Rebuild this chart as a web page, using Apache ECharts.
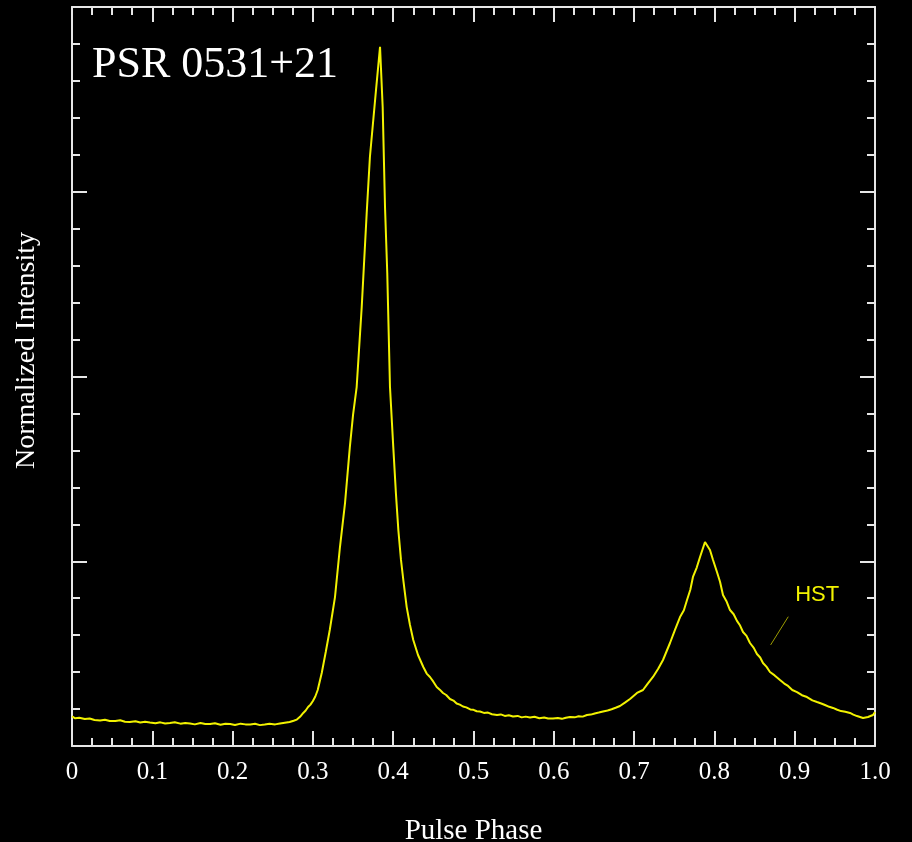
<!DOCTYPE html>
<html>
<head>
<meta charset="utf-8">
<script src="https://cdn.jsdelivr.net/npm/echarts@6/dist/echarts.min.js"></script>
<style>
html,body{margin:0;padding:0;background:#000;}
#chart{width:912px;height:842px;}
</style>
</head>
<body>
<div id="chart"></div>
<script>
// Pulse phase (x) and normalized intensity (y, arbitrary units)
const phase = [
0.000,0.004,0.009,0.016,0.022,0.028,0.035,0.041,0.047,0.054,0.060,0.066,0.072,0.079,0.085,0.091,0.097,0.104,0.110,0.116,
0.122,0.128,0.135,0.141,0.147,0.153,0.160,0.166,0.172,0.178,0.185,0.191,0.197,0.203,0.210,0.216,0.222,0.228,0.234,0.240,
0.246,0.253,0.259,0.265,0.271,0.276,0.280,0.284,0.288,0.291,0.294,0.297,0.300,0.303,0.306,0.311,0.316,0.321,0.3275,0.3337,
0.340,0.346,0.350,0.3545,0.3608,0.367,0.371,0.3786,0.3836,0.3869,0.3898,0.3926,0.396,0.4001,0.4035,0.4064,0.4097,0.4126,0.4168,0.4209,
0.425,0.4309,0.4375,0.4417,0.4458,0.450,0.4542,0.458,0.462,0.466,0.4707,0.475,0.479,0.483,0.4869,0.491,0.496,0.500,0.504,0.5081,
0.513,0.518,0.523,0.5293,0.534,0.539,0.544,0.5492,0.555,0.560,0.565,0.5704,0.576,0.582,0.588,0.593,0.599,0.605,0.610,0.615,
0.6202,0.626,0.631,0.636,0.6413,0.646,0.651,0.656,0.6613,0.667,0.672,0.677,0.6824,0.689,0.6949,0.7036,0.7111,0.717,0.7235,0.730,
0.736,0.7447,0.7509,0.7572,0.762,0.7659,0.770,0.7733,0.778,0.7821,0.7883,0.7945,0.7983,0.8032,0.807,0.8107,0.815,0.8194,0.824,0.8281,
0.832,0.8356,0.840,0.8443,0.849,0.853,0.857,0.8605,0.865,0.8692,0.875,0.8817,0.887,0.8917,0.897,0.9029,0.909,0.9153,0.922,0.9278,
0.933,0.9377,0.943,0.9477,0.953,0.9577,0.963,0.9689,0.973,0.9776,0.9851,0.9913,0.9975,1.000
];
const intensity = [
0.160,0.150,0.153,0.146,0.149,0.141,0.138,0.142,0.135,0.135,0.139,0.131,0.130,0.134,0.127,0.131,0.127,0.123,0.128,0.122,
0.1245,0.129,0.121,0.125,0.122,0.117,0.124,0.119,0.119,0.123,0.115,0.120,0.119,0.114,0.121,0.117,0.116,0.120,0.113,0.116,
0.120,0.117,0.122,0.126,0.130,0.137,0.143,0.158,0.179,0.192,0.211,0.224,0.2436,0.268,0.303,0.395,0.509,0.628,0.806,1.077,
1.315,1.618,1.792,1.943,2.376,2.885,3.188,3.551,3.784,3.459,2.917,2.560,1.943,1.618,1.359,1.169,1.007,0.8985,0.752,0.655,
0.574,0.4926,0.4276,0.392,0.3735,0.348,0.3194,0.305,0.287,0.276,0.2544,0.246,0.230,0.224,0.2138,0.209,0.198,0.196,0.188,0.1867,
0.179,0.181,0.172,0.1678,0.171,0.163,0.166,0.1597,0.163,0.155,0.159,0.1543,0.158,0.150,0.154,0.149,0.1488,0.152,0.147,0.153,
0.157,0.155,0.161,0.159,0.1678,0.170,0.176,0.181,0.1867,0.192,0.199,0.207,0.2165,0.236,0.2544,0.287,0.303,0.338,0.3735,0.418,
0.4655,0.5575,0.628,0.698,0.735,0.790,0.846,0.915,0.966,1.023,1.104,1.061,1.007,0.942,0.889,0.817,0.784,0.736,0.713,0.677,
0.652,0.617,0.596,0.5575,0.531,0.498,0.479,0.449,0.428,0.4005,0.382,0.357,0.338,0.325,0.303,0.292,0.275,0.265,0.247,0.238,
0.230,0.222,0.212,0.206,0.196,0.189,0.185,0.179,0.170,0.162,0.1516,0.157,0.1678,0.184
];
const xTicks = [0,0.1,0.2,0.3,0.4,0.5,0.6,0.7,0.8,0.9,1.0];
const title = 'PSR 0531+21';
const xName = 'Pulse Phase';
const yName = 'Normalized Intensity';
const annotation = 'HST';
const annotationPos = [0.928, 0.817];
const leader = [[0.892, 0.700], [0.870, 0.547]];

const axisColor = '#e6e6e6';
const chart = echarts.init(document.getElementById('chart'));
const xBase = {
  type: 'value', min: 0, max: 1, interval: 0.1,
  axisLine: {show: true, onZero: false, lineStyle: {color: axisColor, width: 2}},
  axisTick: {show: true, inside: true, length: 15, lineStyle: {color: axisColor, width: 2}},
  minorTick: {show: true, splitNumber: 4, length: 8, lineStyle: {color: axisColor, width: 2}},
  splitLine: {show: false}, minorSplitLine: {show: false}
};
const yBase = {
  type: 'value', min: 0, max: 4, interval: 1,
  axisLine: {show: true, onZero: false, lineStyle: {color: axisColor, width: 2}},
  axisTick: {show: true, inside: true, length: 15, lineStyle: {color: axisColor, width: 2}},
  minorTick: {show: true, splitNumber: 5, length: 8, lineStyle: {color: axisColor, width: 2}},
  splitLine: {show: false}, minorSplitLine: {show: false},
  axisLabel: {show: false}
};
chart.setOption({
  backgroundColor: '#000',
  animation: false,
  title: {
    text: title, left: 92, top: 43, padding: 0,
    textStyle: {color: '#fff', fontFamily: 'Liberation Serif', fontSize: 44, fontWeight: 'normal'}
  },
  grid: {left: 72, right: 37, top: 7, bottom: 96, outerBoundsMode: 'none'},
  xAxis: [
    Object.assign({}, xBase, {
      position: 'bottom',
      name: xName, nameLocation: 'middle', nameGap: 71,
      nameTextStyle: {color: '#fff', fontFamily: 'Liberation Serif', fontSize: 29},
      axisLabel: {
        show: true, color: '#fff', fontFamily: 'Liberation Serif', fontSize: 25, margin: 14,
        formatter: v => v === 0 ? '0' : v.toFixed(1)
      }
    }),
    Object.assign({}, xBase, {position: 'top', axisLabel: {show: false}})
  ],
  yAxis: [
    Object.assign({}, yBase, {
      position: 'left',
      name: yName, nameLocation: 'middle', nameGap: 31,
      nameTextStyle: {color: '#fff', fontFamily: 'Liberation Serif', fontSize: 28, padding: [0, 0, 0, 52]}
    }),
    Object.assign({}, yBase, {position: 'right'})
  ],
  series: [{
    type: 'line',
    xAxisIndex: 0, yAxisIndex: 0,
    data: phase.map((p, i) => [p, intensity[i]]),
    showSymbol: false, symbol: 'none',
    lineStyle: {color: '#f2f200', width: 2},
    markLine: {
      silent: true, symbol: 'none', label: {show: false},
      lineStyle: {color: '#9c9c00', width: 1, type: 'solid'},
      data: [[{coord: leader[0]}, {coord: leader[1]}]]
    },
    markPoint: {
      silent: true, symbol: 'circle', symbolSize: 0,
      label: {show: true, position: 'inside', formatter: annotation, color: '#f2f200',
        fontFamily: 'Liberation Sans', fontSize: 22},
      data: [{coord: annotationPos, value: annotation}]
    }
  }]
});
</script>
</body>
</html>
